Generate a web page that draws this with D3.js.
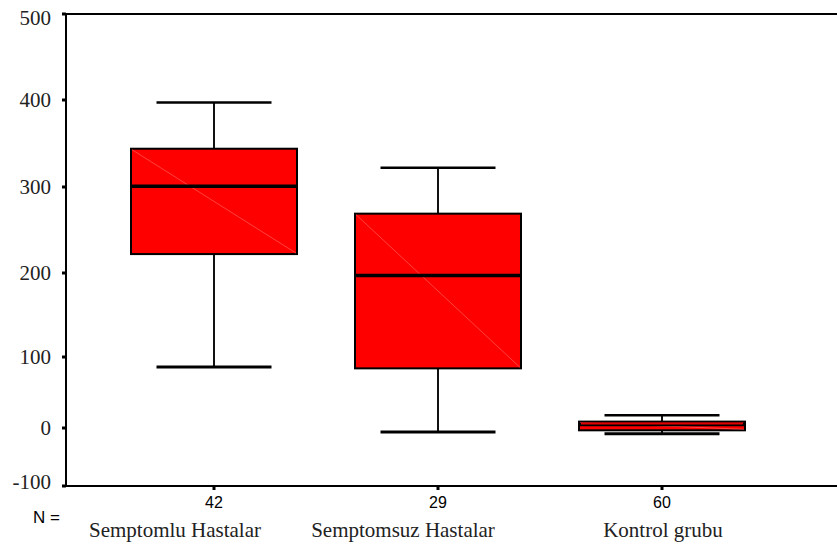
<!DOCTYPE html>
<html><head><meta charset="utf-8">
<script src="https://cdn.jsdelivr.net/npm/d3@7/dist/d3.min.js"></script>
<style>body{margin:0;background:#fff}svg{display:block}</style>
</head><body>
<script>
const categories = ["Semptomlu Hastalar", "Semptomsuz Hastalar", "Kontrol grubu"];
const counts = [42, 29, 60];
const whiskerLow = [86, -7, -10];
const q1 = [222, 84, -4];
const median = [301, 197, 5];
const q3 = [344, 269, 9];
const whiskerHigh = [397, 322, 18];
const yTicks = [-100, 0, 100, 200, 300, 400, 500];

const W = 837, H = 545;
const svg = d3.select("body").append("svg").attr("width", W).attr("height", H);

const plotLeft = 66, plotTop = 14, plotBottom = 486;
const serif = "'Liberation Serif', 'DejaVu Serif', serif";
const sans = "'Liberation Sans', Arial, sans-serif";
// the axis in the source is drawn with unequal spacing between tick labels
const y = d3.scaleLinear().domain(yTicks).range([plotBottom, 428, 357, 273, 187, 100, plotTop]);
const x = d3.scalePoint().domain(categories).range([214, 662]);
const boxW = 166, capW = 115;
const labelDx = [-39, -35, 1]; // category labels are offset from the box centres in the source

const data = categories.map((c, i) => ({c, i, n: counts[i], lo: whiskerLow[i], q1: q1[i], med: median[i], q3: q3[i], hi: whiskerHigh[i]}));

svg.append("path").attr("d", `M${W},${plotTop}H${plotLeft}V${plotBottom}H${W}`)
  .attr("fill", "none").attr("stroke", "#000").attr("stroke-width", 2);

const yg = svg.append("g");
yTicks.forEach((t, i) => {
  yg.append("rect").attr("x", plotLeft - 4).attr("y", y(t) - 1.5).attr("width", 4).attr("height", 3).attr("fill", "#000");
  const off = i === yTicks.length - 1 ? 4 : (i === 0 ? -4 : 0);
  yg.append("text").attr("x", 51).attr("y", y(t) + off).attr("dy", "0.35em").attr("text-anchor", "end")
    .style("font-family", serif).style("font-size", "21px").attr("fill", "#222").text(t);
});

const g = svg.append("g");
data.forEach(d => {
  const cx = x(d.c);
  g.append("line").attr("x1", cx).attr("x2", cx).attr("y1", y(d.hi)).attr("y2", y(d.q3)).attr("stroke", "#111").attr("stroke-width", 2);
  g.append("line").attr("x1", cx).attr("x2", cx).attr("y1", y(d.q1)).attr("y2", y(d.lo)).attr("stroke", "#111").attr("stroke-width", 2);
  g.append("line").attr("x1", cx - capW / 2).attr("x2", cx + capW / 2).attr("y1", y(d.hi)).attr("y2", y(d.hi)).attr("stroke", "#000").attr("stroke-width", 2.5);
  g.append("line").attr("x1", cx - capW / 2).attr("x2", cx + capW / 2).attr("y1", y(d.lo)).attr("y2", y(d.lo)).attr("stroke", "#000").attr("stroke-width", 3);
  g.append("rect").attr("x", cx - boxW / 2).attr("y", y(d.q3)).attr("width", boxW).attr("height", y(d.q1) - y(d.q3))
    .attr("fill", "#ff0000").attr("stroke", "#000").attr("stroke-width", 2);
  g.append("line").attr("x1", cx - boxW / 2 + 1).attr("y1", y(d.q3) + 1).attr("x2", cx + boxW / 2 - 1).attr("y2", y(d.q1) - 1)
    .attr("stroke", "#ff8080").attr("stroke-width", 0.5);
  g.append("line").attr("x1", cx - boxW / 2).attr("x2", cx + boxW / 2).attr("y1", y(d.med)).attr("y2", y(d.med))
    .attr("stroke", "#000").attr("stroke-width", 3.5);
});
{
  const d = data[2], cx = x(d.c);
  g.append("line").attr("x1", cx - boxW / 2 + 2).attr("x2", cx + boxW / 2 - 2).attr("y1", y(d.med) - 1).attr("y2", y(d.med) - 1)
    .attr("stroke", "#e00000").attr("stroke-width", 2);
}

data.forEach(d => {
  const cx = x(d.c);
  svg.append("rect").attr("x", cx - 1.5).attr("y", plotBottom + 1).attr("width", 3).attr("height", 3).attr("fill", "#000");
  svg.append("text").attr("x", cx).attr("y", 508).attr("text-anchor", "middle")
    .style("font-family", sans).style("font-size", "16px").text(d.n);
  svg.append("text").attr("x", cx + labelDx[d.i]).attr("y", 537).attr("text-anchor", "middle")
    .style("font-family", serif).style("font-size", "21px").attr("fill", "#222").text(d.c);
});
svg.append("text").attr("x", 33).attr("y", 523)
  .style("font-family", sans).style("font-size", "17px").text("N =");
</script>
</body></html>
